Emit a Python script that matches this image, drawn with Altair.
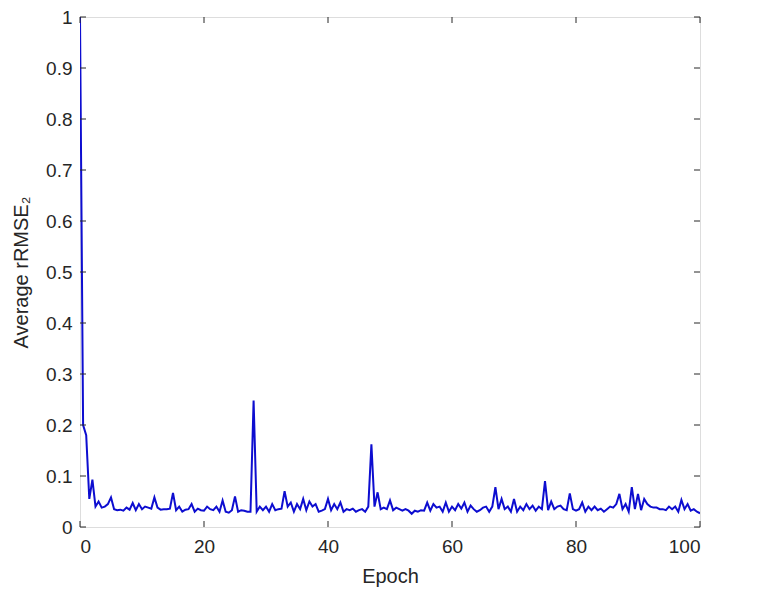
import altair as alt
import pandas as pd

epochs = [i * 0.5 for i in range(201)]
values = [
    1.0, 0.2, 0.18, 0.055, 0.093, 0.04, 0.05, 0.038, 0.04, 0.045,
    0.058, 0.035, 0.033, 0.034, 0.032, 0.038, 0.034, 0.047, 0.033, 0.045,
    0.035, 0.04, 0.038, 0.036, 0.058, 0.038, 0.034, 0.035, 0.035, 0.036,
    0.067, 0.033, 0.04, 0.03, 0.034, 0.035, 0.045, 0.03, 0.036, 0.033,
    0.032, 0.04, 0.035, 0.033, 0.04, 0.03, 0.052, 0.03, 0.028, 0.033,
    0.06, 0.03, 0.033, 0.032, 0.03, 0.03, 0.248, 0.03, 0.04, 0.033,
    0.04, 0.03, 0.045, 0.033, 0.035, 0.036, 0.07, 0.04, 0.048, 0.03,
    0.045, 0.035, 0.055, 0.033, 0.05, 0.04, 0.045, 0.03, 0.032, 0.035,
    0.055, 0.033, 0.045, 0.035, 0.048, 0.03, 0.035, 0.033, 0.036, 0.03,
    0.033, 0.035, 0.03, 0.04, 0.162, 0.04, 0.068, 0.035, 0.038, 0.035,
    0.052, 0.033, 0.038, 0.035, 0.032, 0.035, 0.032, 0.026, 0.032, 0.03,
    0.033, 0.032, 0.048, 0.032, 0.045, 0.038, 0.04, 0.03, 0.048, 0.03,
    0.04, 0.033, 0.045, 0.036, 0.048, 0.03, 0.042, 0.035, 0.03, 0.033,
    0.038, 0.04, 0.03, 0.04, 0.078, 0.035, 0.055, 0.035, 0.04, 0.03,
    0.055, 0.03, 0.04, 0.033, 0.045, 0.035, 0.042, 0.032, 0.04, 0.035,
    0.09, 0.033, 0.05, 0.035, 0.04, 0.042, 0.035, 0.033, 0.066, 0.035,
    0.032, 0.035, 0.048, 0.03, 0.04, 0.033, 0.04, 0.033, 0.036, 0.03,
    0.035, 0.04, 0.038, 0.045, 0.065, 0.035, 0.045, 0.03, 0.078, 0.035,
    0.065, 0.033, 0.055, 0.045, 0.04, 0.038, 0.038, 0.035, 0.035, 0.033,
    0.04, 0.035, 0.04, 0.03, 0.053, 0.035, 0.045, 0.032, 0.035, 0.03,
    0.027,
]
x_ticks = [0, 20, 40, 60, 80, 100]
y_ticks = [0, 0.1, 0.2, 0.3, 0.4, 0.5, 0.6, 0.7, 0.8, 0.9, 1]

W, H = 620, 510
FONT = "Liberation Sans"
TXT = "#262626"

df = pd.DataFrame({"epoch": epochs, "value": values})
xt = pd.DataFrame({"t": x_ticks})
yt = pd.DataFrame({"t": y_ticks})

xscale = alt.Scale(domain=[0, 100], nice=False, zero=False)
yscale = alt.Scale(domain=[0, 1], nice=False)

line = alt.Chart(df).mark_line(color="#0d0dd0", strokeWidth=2, clip=True).encode(
    x=alt.X("epoch:Q", scale=xscale,
            axis=alt.Axis(title="Epoch", values=x_ticks, format="d", ticks=False,
                          domain=False, grid=False, labelFontSize=19, labelColor=TXT,
                          labelFont=FONT, labelPadding=10, titleFont=FONT,
                          titleFontSize=20, titleFontWeight="normal", titleColor=TXT,
                          titlePadding=10)),
    y=alt.Y("value:Q", scale=yscale,
            axis=alt.Axis(title="Average rRMSE₂", values=y_ticks, ticks=False,
                          domain=False, grid=False, labelFontSize=19, labelColor=TXT,
                          labelFont=FONT, labelPadding=8, titleFont=FONT,
                          titleFontSize=20, titleFontWeight="normal", titleColor=TXT,
                          titlePadding=14,
                          labelExpr="datum.value == 0 ? '0' : datum.value == 1 ? '1' : format(datum.value, '.1f')")),
)

tick_len = 6
xb = alt.Chart(xt).mark_rule(color=TXT, strokeWidth=1).encode(
    x=alt.X("t:Q", scale=xscale), y=alt.value(H), y2=alt.value(H - tick_len))
xtop = alt.Chart(xt).mark_rule(color=TXT, strokeWidth=1).encode(
    x=alt.X("t:Q", scale=xscale), y=alt.value(0), y2=alt.value(tick_len))
yl = alt.Chart(yt).mark_rule(color=TXT, strokeWidth=1).encode(
    y=alt.Y("t:Q", scale=yscale), x=alt.value(0), x2=alt.value(tick_len))
yr = alt.Chart(yt).mark_rule(color=TXT, strokeWidth=1).encode(
    y=alt.Y("t:Q", scale=yscale), x=alt.value(W), x2=alt.value(W - tick_len))

chart = alt.layer(line, xb, xtop, yl, yr).properties(
    width=W, height=H,
    autosize=alt.AutoSizeParams(type="none"),
    padding={"left": 72, "top": 9, "right": 30, "bottom": 60},
).configure_view(stroke="#262626", strokeWidth=1).configure(background="white")

chart.save("out.html", embed_options={"renderer": "svg", "actions": False})
